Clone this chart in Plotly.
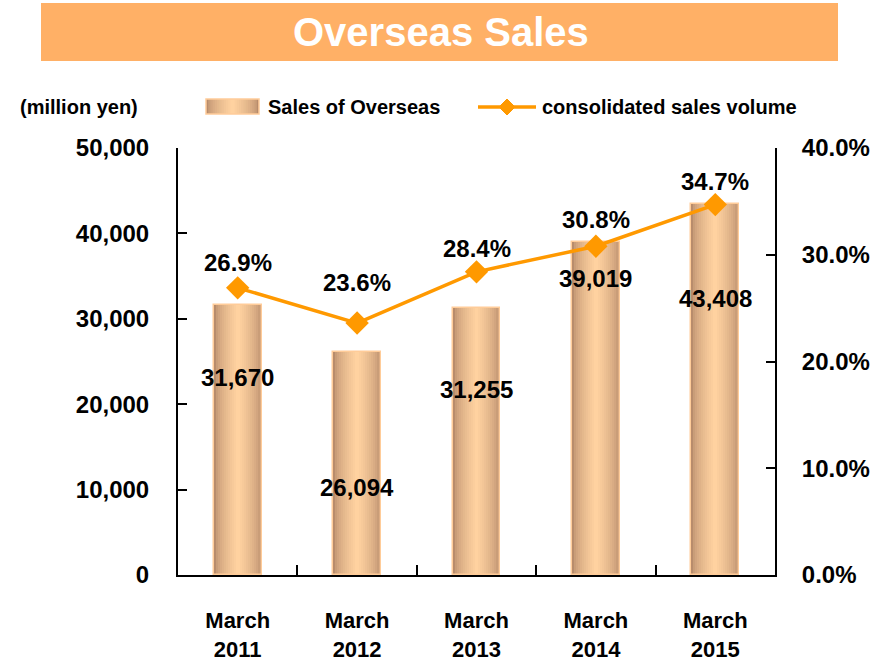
import plotly.graph_objects as go

categories = ["March<br>2011", "March<br>2012", "March<br>2013", "March<br>2014", "March<br>2015"]
sales_overseas = [31670, 26094, 31255, 39019, 43408]
overseas_ratio = [26.9, 23.6, 28.4, 30.8, 34.7]
left_ticks = [0, 10000, 20000, 30000, 40000, 50000]
right_ticks = [0, 10, 20, 30, 40]

# label placement (positions, kept separate from data)
bar_label_y = [23070, 10300, 21780, 34720, 32320]
pct_label_shift = [25, 41, 23, 27, 23]

FONT = "Liberation Sans"
DARK = (184, 140, 108)
LIGHT = (255, 210, 160)
ORANGE = "#FF9900"


def lerp(a, b, t):
    return "rgb(%d,%d,%d)" % tuple(round(a[i] + (b[i] - a[i]) * t) for i in range(3))


fig = go.Figure()
N = 12
BW = 0.40
for i in range(N):
    t = i / (N - 1)
    w = BW * (1 - 0.92 * t)
    fig.add_trace(go.Bar(
        x=categories, y=sales_overseas, width=w,
        marker=dict(color=lerp(DARK, LIGHT, t ** 0.6), line=dict(width=0)),
        showlegend=False, hoverinfo="skip"))
fig.add_trace(go.Bar(
    x=categories, y=sales_overseas, width=BW,
    marker=dict(color="rgba(0,0,0,0)", line=dict(color="#FFCC99", width=1.5)),
    name="Sales of Overseas", showlegend=False))

fig.add_trace(go.Scatter(
    x=categories, y=overseas_ratio, yaxis="y2", mode="lines+markers",
    line=dict(color=ORANGE, width=3.5),
    marker=dict(symbol="diamond", size=18, color=ORANGE),
    name="consolidated sales volume", showlegend=False))

LBL = dict(family=FONT, size=24, color="black")
annotations = []
for c, v, ly in zip(categories, sales_overseas, bar_label_y):
    annotations.append(dict(x=c, y=ly, xref="x", yref="y", text=f"<b>{v:,}</b>",
                            xanchor="center", yanchor="middle", showarrow=False, font=LBL))
for c, p, s in zip(categories, overseas_ratio, pct_label_shift):
    annotations.append(dict(x=c, y=p, xref="x", yref="y2", text=f"<b>{p:.1f}%</b>", yshift=s,
                            xanchor="center", yanchor="middle", showarrow=False, font=LBL))

pix_annotations = [
    dict(x=441, y=32, text="<b>Overseas Sales</b>", xanchor="center",
         font=dict(family=FONT, size=40, color="white")),
    dict(x=18, y=107, text="<b>(million yen)</b>", xanchor="left",
         font=dict(family=FONT, size=20, color="black")),
    dict(x=266, y=107, text="<b>Sales of Overseas</b>", xanchor="left",
         font=dict(family=FONT, size=20, color="black")),
    dict(x=540, y=107, text="<b>consolidated sales volume</b>", xanchor="left",
         font=dict(family=FONT, size=20, color="black")),
]

shapes = [dict(type="rect", x0=41, x1=838, y0=3, y1=61, fillcolor="#FFB066",
               line=dict(width=0), layer="below")]
# legend swatch (nested gradient)
for i in range(N):
    t = i / (N - 1)
    half = 26.5 * (1 - 0.92 * t)
    shapes.append(dict(type="rect", x0=232.5 - half, x1=232.5 + half, y0=99, y1=114,
                       fillcolor=lerp(DARK, LIGHT, t ** 0.6), line=dict(width=0)))
shapes.append(dict(type="rect", x0=206, x1=259, y0=99, y1=114, line=dict(color="#FFCC99", width=1.5)))
shapes.append(dict(type="line", x0=478, x1=536, y0=107, y1=107, line=dict(color=ORANGE, width=3.5)))
shapes.append(dict(type="path", path="M 507 99 L 515 107 L 507 115 L 499 107 Z",
                   fillcolor=ORANGE, line=dict(color=ORANGE, width=1)))

# convert pixel-based decorations to paper coords
W, H = 883, 661
ML, MR, MT, MB = 178, 108, 148, 86
PW, PH = W - ML - MR, H - MT - MB


def px2paper_x(px):
    return (px - ML) / PW


def px2paper_y(py):
    return (H - MB - py) / PH


for a in pix_annotations:
    a.update(xref="paper", yref="paper", yanchor="middle", showarrow=False,
             x=px2paper_x(a["x"]), y=px2paper_y(a["y"]))
    annotations.append(a)

for s in shapes:
    s["xref"] = "paper"; s["yref"] = "paper"
    if s["type"] == "path":
        parts = s["path"].split()
        out = []
        j = 0
        while j < len(parts):
            tok = parts[j]
            if tok in ("M", "L"):
                out += [tok, "%.5f" % px2paper_x(float(parts[j + 1])), "%.5f" % px2paper_y(float(parts[j + 2]))]
                j += 3
            else:
                out.append(tok); j += 1
        s["path"] = " ".join(out)
    else:
        s["x0"], s["x1"] = px2paper_x(s["x0"]), px2paper_x(s["x1"])
        s["y0"], s["y1"] = px2paper_y(s["y0"]), px2paper_y(s["y1"])

tickfont = dict(family=FONT, size=24, color="black")
fig.update_layout(
    width=W, height=H, autosize=False,
    margin=dict(l=ML, r=MR, t=MT, b=MB, pad=0, autoexpand=False),
    paper_bgcolor="white", plot_bgcolor="white",
    barmode="overlay", bargap=0,
    showlegend=False,
    annotations=annotations, shapes=shapes,
    xaxis=dict(showline=True, linecolor="black", linewidth=2, ticks="inside", ticklen=10,
               tickwidth=2, tickcolor="black", tickson="boundaries", showgrid=False,
               tickfont=dict(family=FONT, size=22, color="black"), ticklabelstandoff=25,
               range=[-0.5, 4.5], automargin=False,
               tickprefix="<b>", ticksuffix="</b>"),
    yaxis=dict(range=[0, 50000], tickvals=left_ticks, ticktext=[f"<b>{v:,}</b>" for v in left_ticks],
               showline=True, linecolor="black", linewidth=2, ticks="inside", ticklen=9,
               tickwidth=2, tickcolor="black", showgrid=False, zeroline=False, automargin=False,
               tickfont=tickfont, ticklabelstandoff=22),
    yaxis2=dict(range=[0, 40], tickvals=right_ticks, ticktext=[f"<b>{v:.1f}%</b>" for v in right_ticks],
                overlaying="y", side="right", showline=True, linecolor="black", linewidth=2,
                ticks="inside", ticklen=9, tickwidth=2, tickcolor="black", showgrid=False,
                zeroline=False, automargin=False, tickfont=tickfont, ticklabelstandoff=20),
)

fig.write_html("out.html", config={"displayModeBar": False},
               post_script="document.body.style.margin='0';")
